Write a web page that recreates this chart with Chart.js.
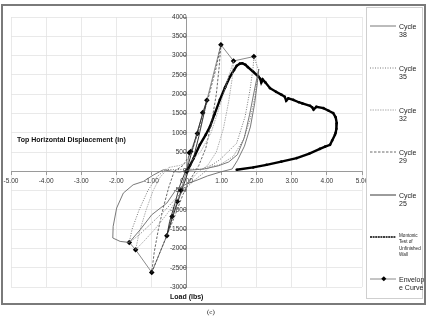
<!DOCTYPE html>
<html><head><meta charset="utf-8">
<script src="https://cdn.jsdelivr.net/npm/chart.js@4/dist/chart.umd.min.js"></script>
<style>
html,body{margin:0;padding:0;background:#fff;}
#wrap{position:relative;width:427px;height:317px;overflow:hidden;font-family:"Liberation Sans",Arial,sans-serif;}
#frame{position:absolute;left:1px;top:4px;width:421px;height:297px;border:2px solid #7a7a7a;}
#cv{position:absolute;left:0;top:0;}
#legend{position:absolute;left:366px;top:7px;width:55px;height:290px;border:1px solid #cfcfcf;background:#fff;}
.li{position:absolute;left:0;width:55px;}
.li svg{position:absolute;left:3px;}
.li .t{position:absolute;left:32px;font-size:7px;line-height:7.5px;color:#222;}
.li .s{font-size:4.6px;line-height:6.3px;}
.ttl{position:absolute;font-weight:bold;font-size:7px;color:#111;white-space:nowrap;}
#cap{position:absolute;left:207px;top:308px;font-family:"Liberation Serif",serif;font-size:7px;color:#222;}
</style></head>
<body><div id="wrap">
<canvas id="cv" width="427" height="317"></canvas>
<div id="frame"></div>
<div class="ttl" style="left:17px;top:136px;">Top Horizontal Displacement (in)</div>
<div class="ttl" style="left:170px;top:293px;">Load (lbs)</div>
<div id="legend"></div>
<div id="cap">(c)</div>
</div>
<script>
// ---- data ----
const xTicks = [-5,-4,-3,-2,-1,0,1,2,3,4,5];
const yTicks = [-3000,-2500,-2000,-1500,-1000,-500,0,500,1000,1500,2000,2500,3000,3500,4000];

const cycle38X = [-0.42,-0.2,0.1,0.5,0.9,1.2,1.45,1.65,1.8,1.93,2.02,2.06,2.02,1.94,1.82,1.65,1.45,1.3,1.0,0.6,0.3,0.0,-0.3,-0.56,-0.99,-1.32,-1.63,-1.89,-2.10,-2.09,-1.99,-1.80,-1.52,-1.23,-0.95,-0.66,-0.42];
const cycle38Y = [0,-20,30,60,140,240,430,880,1480,2080,2480,2650,2300,1750,1150,650,280,60,-10,-120,-230,-330,-479,-824,-1127,-1515,-1845,-1818,-1730,-1430,-953,-565,-350,-264,-100,39,0];

const cycle35X = [-0.6,-0.3,0.0,0.45,0.75,0.95,1.24,1.43,1.67,1.81,1.90,1.92,2.05,1.95,1.81,1.62,1.33,0.95,0.67,0.48,0.2,-0.2,-0.6,-1.0,-1.35,-1.63,-1.55,-1.35,-1.1,-0.85,-0.6];
const cycle35Y = [50,40,60,50,180,300,557,730,1420,2111,2715,2975,2630,1938,1334,816,383,168,124,-47,-250,-600,-1000,-1350,-1650,-1845,-1500,-1000,-500,-150,50];

const cycle32X = [-0.5,-0.2,0.1,0.4,0.7,0.95,1.15,1.34,1.3,1.2,1.05,0.85,0.6,0.35,0.1,-0.2,-0.55,-0.9,-1.2,-1.45,-1.35,-1.15,-0.95,-0.75,-0.5];
const cycle32Y = [100,150,250,500,1000,1700,2300,2860,2400,1800,1100,500,150,0,-250,-650,-1100,-1500,-1800,-2034,-1600,-1000,-500,-150,100];

const cycle29X = [-0.35,-0.1,0.15,0.4,0.65,0.85,0.98,0.93,0.85,0.72,0.55,0.35,0.15,-0.1,-0.35,-0.6,-0.8,-0.99,-0.92,-0.8,-0.65,-0.5,-0.35];
const cycle29Y = [0,150,500,1200,2000,2700,3280,2700,2000,1300,600,150,-150,-600,-1200,-1750,-2200,-2622,-2100,-1500,-900,-400,0];

const cycle25X = [0,0.15,0.3,0.45,0.58,0.5,0.35,0.2,0.05,-0.1,-0.25,-0.4,-0.56,-0.48,-0.35,-0.2,-0.05,0];
const cycle25Y = [0,500,1000,1450,1840,1500,900,350,0,-400,-800,-1200,-1671,-1300,-900,-400,-50,0];

const monoX = [0,0.1,0.2,0.38,0.55,0.67,0.8,0.95,1.1,1.24,1.35,1.43,1.52,1.59,1.68,1.75,1.9,2.05,2.1,2.13,2.17,2.25,2.38,2.55,2.71,2.8,2.84,2.9,3.04,3.2,3.3,3.52,3.58,3.62,3.7,3.9,4.05,4.18,4.25,4.28,4.27,4.25,4.23,4.15,4.09,3.95,3.8,3.5,3.14,2.7,2.28,1.9,1.43];
const monoY = [0,150,330,686,950,1161,1480,1852,2180,2456,2620,2733,2790,2800,2760,2700,2580,2456,2400,2300,2380,2300,2155,2060,1982,1930,1830,1890,1852,1790,1760,1697,1660,1600,1670,1637,1570,1508,1400,1249,1100,1000,946,800,686,640,580,460,342,250,168,100,39];

const envX = [-1.63,-1.45,-0.99,-0.56,-0.41,-0.26,-0.16,0,0.08,0.12,0.31,0.46,0.58,0.98,1.34,1.92];
const envY = [-1845,-2034,-2622,-1671,-1171,-782,-497,0,480,513,980,1520,1840,3280,2860,2975];

// ---- build ----
const pts = (xs, ys) => xs.map((x, i) => ({x: x, y: ys[i]}));
const series = [
  {label:'Cycle 38', xs:cycle38X, ys:cycle38Y, color:'#6a6a6a', w:0.9, dash:[], lg:'Cycle<br>38'},
  {label:'Cycle 35', xs:cycle35X, ys:cycle35Y, color:'#555', w:0.8, dash:[1,1.5], lg:'Cycle<br>35'},
  {label:'Cycle 32', xs:cycle32X, ys:cycle32Y, color:'#9a9a9a', w:0.8, dash:[1.5,1], lg:'Cycle<br>32'},
  {label:'Cycle 29', xs:cycle29X, ys:cycle29Y, color:'#444', w:0.8, dash:[2.5,1.5], lg:'Cycle<br>29'},
  {label:'Cycle 25', xs:cycle25X, ys:cycle25Y, color:'#222', w:0.9, dash:[], lg:'Cycle<br>25'},
  {label:'Monotonic Test of Unfinished Wall', xs:monoX, ys:monoY, color:'#000', w:2.4, dash:[], lg:'Montonic<br>Test of<br>Unfinished<br>Wall', small:true},
  {label:'Envelope Curve', xs:envX, ys:envY, color:'#8a8a8a', w:1, dash:[], lg:'Envelop<br>e Curve', marker:true}
];
const datasets = series.map(s => ({
  label: s.label,
  data: pts(s.xs, s.ys),
  showLine: true,
  borderColor: s.color,
  borderWidth: s.w,
  borderDash: s.dash,
  pointRadius: s.marker ? 2.8 : (s.small ? 1.3 : 0),
  pointStyle: s.marker ? 'rectRot' : 'circle',
  pointBackgroundColor: '#000',
  pointBorderColor: '#000',
  pointBorderWidth: 0,
  tension: 0,
  fill: false
}));

new Chart(document.getElementById('cv'), {
  type: 'scatter',
  data: {datasets: datasets},
  options: {
    responsive: false,
    animation: false,
    events: [],
    layout: {padding: {left: 11, right: 65, top: 17, bottom: 30}},
    plugins: {legend: {display: false}, tooltip: {enabled: false}},
    scales: {
      x: {
        type: 'linear', position: {y: 0}, min: -5, max: 5,
        afterBuildTicks: a => { a.ticks = xTicks.map(v => ({value: v})); },
        ticks: {callback: v => v.toFixed(2), font: {family: 'Liberation Sans', size: 6.5}, color: '#333', padding: 3, maxRotation: 0, autoSkip: false},
        grid: {color: '#e3e3e3', lineWidth: 0.8, tickLength: 3, tickColor: '#888'},
        border: {color: '#9a9a9a', width: 1}
      },
      y: {
        type: 'linear', position: {x: 0}, min: -3000, max: 4000,
        afterBuildTicks: a => { a.ticks = yTicks.map(v => ({value: v})); },
        ticks: {callback: v => String(v), font: {family: 'Liberation Sans', size: 6.5}, color: '#333', padding: 3, autoSkip: false},
        grid: {color: '#e3e3e3', lineWidth: 0.8, tickLength: 3, tickColor: '#888'},
        border: {color: '#9a9a9a', width: 1}
      }
    }
  }
});

// ---- HTML legend ----
const legendTops = [13, 55, 97, 139, 182, 224, 266];
const lg = document.getElementById('legend');
series.forEach((s, i) => {
  const d = document.createElement('div');
  d.className = 'li';
  d.style.top = legendTops[i] + 'px';
  const dash = s.dash.length ? `stroke-dasharray="${s.dash.join(',')}"` : (s.small ? 'stroke-dasharray="2,0.6"' : '');
  const mk = s.marker ? '<rect x="12" y="3" width="3.6" height="3.6" transform="rotate(45 13.8 4.8)" fill="#000"/>' : '';
  d.innerHTML = `<svg width="27" height="10"><line x1="0" y1="5" x2="26" y2="5" stroke="${s.color}" stroke-width="${Math.min(s.w,1.6)}" ${dash}/>${mk}</svg>` +
    `<div class="t${s.small ? ' s' : ''}" style="top:${s.small ? 1 : 2}px">${s.lg}</div>`;
  lg.appendChild(d);
});
</script>
</body></html>
